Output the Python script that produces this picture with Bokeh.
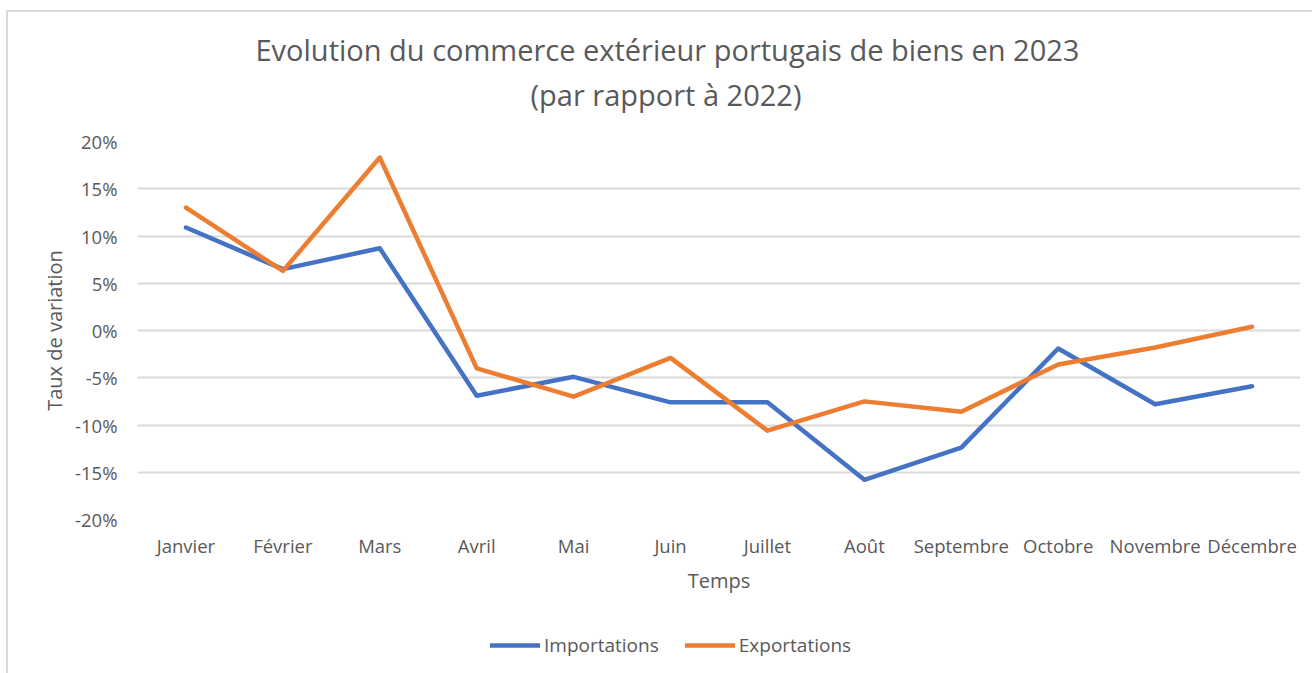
from bokeh.plotting import figure
from bokeh.layouts import column
from bokeh.models import (FactorRange, Range1d, Legend, LegendItem, Title,
                          NumeralTickFormatter, FixedTicker)
from bokeh.embed import file_html
from bokeh.resources import INLINE

months = ["Janvier", "Février", "Mars", "Avril", "Mai", "Juin", "Juillet",
          "Août", "Septembre", "Octobre", "Novembre", "Décembre"]
importations = [0.109, 0.065, 0.087, -0.069, -0.049, -0.076, -0.076,
                -0.158, -0.124, -0.019, -0.078, -0.059]
exportations = [0.130, 0.063, 0.183, -0.040, -0.070, -0.029, -0.106,
                -0.075, -0.086, -0.036, -0.018, 0.004]
y_ticks = [-0.2, -0.15, -0.1, -0.05, 0.0, 0.05, 0.1, 0.15, 0.2]

FONT = "Open Sans"
GREY = "#595959"
BLUE = "#4472C4"
ORANGE = "#ED7D31"

# ---- main chart ----
p = figure(frame_width=1163, frame_height=378, x_range=FactorRange(*months),
           y_range=Range1d(-0.2, 0.2), output_backend="svg",
           toolbar_location=None, min_border_left=129, min_border_right=12,
           min_border_top=129, min_border_bottom=90)
p.title = None

p.line(months, importations, line_color=BLUE, line_width=4.5,
       line_join="round", line_cap="round")
p.line(months, exportations, line_color=ORANGE, line_width=4.5,
       line_join="round", line_cap="round")

p.add_layout(Title(text="(par rapport à 2022)", align="left", offset=393,
                   vertical_align="top",
                   text_font=FONT, text_font_size="29px",
                   text_font_style="normal", text_color=GREY, standoff=51), "above")
p.add_layout(Title(text="Evolution du commerce extérieur portugais de biens en 2023",
                   align="left", offset=118, vertical_align="bottom",
                   text_font=FONT, text_font_size="29px",
                   text_font_style="normal", text_color=GREY, standoff=-38), "above")

p.yaxis.ticker = FixedTicker(ticks=y_ticks)
p.yaxis.formatter = NumeralTickFormatter(format="0%")
for ax in (p.xaxis, p.yaxis):
    ax.axis_line_color = None
    ax.major_tick_line_color = None
    ax.minor_tick_line_color = None
    ax.major_label_text_font = FONT
    ax.major_label_text_font_size = "18.5px"
    ax.major_label_text_color = GREY
    ax.axis_label_text_font = FONT
    ax.axis_label_text_font_size = "20px"
    ax.axis_label_text_font_style = "normal"
    ax.axis_label_text_color = GREY
p.xaxis.axis_label = "Temps"
p.yaxis.axis_label = "Taux de variation"
p.yaxis.major_label_standoff = 14
p.xaxis.major_label_standoff = 7
p.xaxis.axis_label_standoff = 6
p.yaxis.axis_label_standoff = 4

p.xgrid.grid_line_color = None
p.ygrid.grid_line_color = "#d9d9d9"
p.ygrid.grid_line_width = 2
p.outline_line_color = None

# ---- legend strip (same series, drawn out of view; only the legend shows) ----
lg = figure(width=1304, height=64, x_range=FactorRange(*months),
            y_range=Range1d(10, 11), output_backend="svg",
            toolbar_location=None, min_border=0,
            x_axis_type=None, y_axis_type=None)
lg.title = None
lg.grid.visible = False
lg.outline_line_color = None
r1 = lg.line(months, importations, line_color=BLUE, line_width=4.5,
             line_cap="round")
r2 = lg.line(months, exportations, line_color=ORANGE, line_width=4.5,
             line_cap="round")
legend = Legend(items=[LegendItem(label="Importations", renderers=[r1]),
                       LegendItem(label="Exportations", renderers=[r2])],
                orientation="horizontal", location=(353, 15),
                label_text_font=FONT, label_text_font_size="19px",
                label_text_color=GREY, glyph_width=50, label_standoff=4,
                spacing=26, border_line_color=None, background_fill_alpha=0,
                margin=0, padding=4)
lg.add_layout(legend, "center")

layout = column(p, lg, spacing=0)
layout.styles = {"margin-left": "6px", "margin-top": "10px",
                 "border-left": "2px solid #dadada", "border-top": "2px solid #dadada"}

open("out.html", "w").write(file_html(layout, INLINE))
